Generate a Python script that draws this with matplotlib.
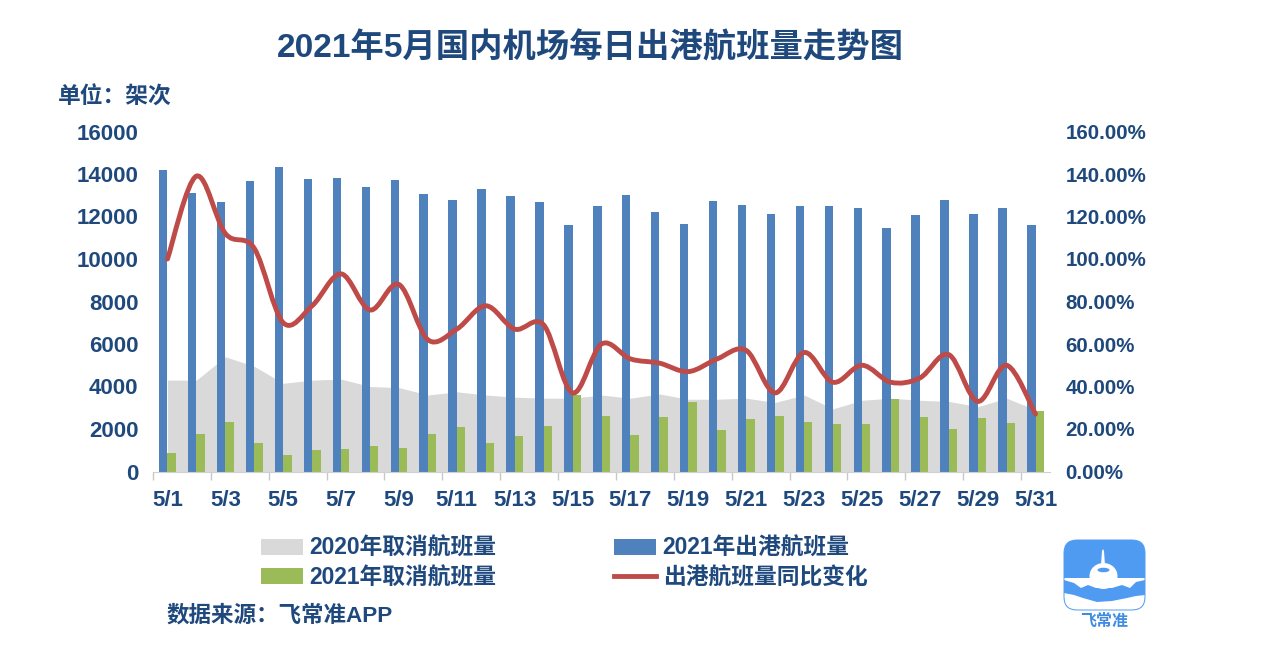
import numpy as np
from matplotlib import pyplot as plt
from matplotlib.patches import FancyBboxPatch, Ellipse, Polygon, PathPatch
from matplotlib.path import Path
from matplotlib.lines import Line2D

plt.rcParams['font.family'] = ['Liberation Sans', 'Noto Sans CJK SC', 'DejaVu Sans']

days = ['5/%d' % d for d in range(1, 32)]
out_2021 = [14200, 13100, 12700, 13650, 14350, 13750, 13800, 13400, 13700, 13050, 12800,
            13300, 12950, 12700, 11600, 12500, 13000, 12200, 11650, 12750, 12550,
            12100, 12500, 12500, 12400, 11450, 12050, 12800, 12100, 12400, 11600]
cancel_2021 = [850, 1750, 2350, 1350, 800, 1000, 1050, 1200, 1100, 1750, 2100,
               1350, 1650, 2150, 3600, 2600, 1700, 2550, 3250, 1950, 2450,
               2600, 2350, 2250, 2250, 3400, 2550, 2000, 2500, 2300, 2850]
cancel_2020 = [4300, 4300, 5400, 4950, 4150, 4300, 4350, 4000, 3950, 3600, 3750,
               3600, 3500, 3450, 3450, 3600, 3450, 3650, 3400, 3400, 3450,
               3250, 3600, 2950, 3350, 3450, 3350, 3300, 3050, 3450, 2900]
yoy_pct = [100, 139, 112, 105, 70, 78, 93, 76, 88, 62, 67,
           78, 67, 69, 37, 60, 53, 51, 47, 53, 57,
           37, 56, 42, 50, 42, 44, 55, 33, 50, 27]

TEXT = '#1F497D'
BLUE = '#4F81BD'
GREEN = '#9BBB59'
GRAY = '#D9D9D9'
RED = '#BE4B48'
W, H = 1265, 655


def smooth_path(xs, ys):
    # same kind of curve the office charts use, through every point
    xs = np.asarray(xs, float)
    ys = np.asarray(ys, float)
    verts = [(xs[0], ys[0])]
    codes = [Path.MOVETO]
    n = len(xs)
    for i in range(n - 1):
        a = max(i - 1, 0)
        b = min(i + 2, n - 1)
        verts.append((xs[i] + (xs[i + 1] - xs[a]) / 6, ys[i] + (ys[i + 1] - ys[a]) / 6))
        verts.append((xs[i + 1] - (xs[b] - xs[i]) / 6, ys[i + 1] - (ys[b] - ys[i]) / 6))
        verts.append((xs[i + 1], ys[i + 1]))
        codes += [Path.CURVE4] * 3
    return Path(verts, codes)


fig = plt.figure(figsize=(W / 100, H / 100), dpi=100)
ax = fig.add_axes([153 / W, 1 - 471.5 / H, 897 / W, 340 / H])
x = np.arange(len(days))
area = ax.fill_between(x, cancel_2020, color=GRAY, lw=0, label='2020年取消航班量')
bar_w = 0.29
b1 = ax.bar(x - bar_w / 2, out_2021, bar_w, color=BLUE, label='2021年出港航班量')
b2 = ax.bar(x + bar_w / 2, cancel_2021, bar_w, color=GREEN, label='2021年取消航班量')
ax.set_xlim(-0.5, 30.5)
ax.set_ylim(0, 16000)
ax.set_yticks(range(0, 16001, 2000))
ax.set_xticks(x[::2])
ax.set_xticklabels(days[::2])
ax.set_xticks(np.arange(-0.5, 30.5, 2), minor=True)
ax.tick_params(axis='x', which='major', length=0, pad=13, labelsize=16, labelcolor=TEXT)
ax.tick_params(axis='x', which='minor', length=6, color='#C8C8C8', width=1)
ax.tick_params(axis='y', length=0, pad=10.5, labelsize=16, labelcolor=TEXT)
for s in ['top', 'left', 'right']:
    ax.spines[s].set_visible(False)
ax.spines['bottom'].set_color('#D0D0D0')

ax2 = ax.twinx()
ax2.set_ylim(0, 160)
ax2.set_yticks(range(0, 161, 20))
ax2.set_yticklabels(['%.2f%%' % v for v in range(0, 161, 20)])
ax2.tick_params(axis='y', length=0, pad=11, labelsize=14.8, labelcolor=TEXT)
for s in ['top', 'left', 'right', 'bottom']:
    ax2.spines[s].set_visible(False)
ax2.add_patch(PathPatch(smooth_path(x, yoy_pct), fill=False, ec=RED, lw=3.5, capstyle='round'))
line = Line2D([], [], color=RED, lw=3.5, label='出港航班量同比变化')

for t in ax.get_xticklabels() + ax.get_yticklabels() + ax2.get_yticklabels():
    t.set_fontweight('bold')

fig.text(590.5 / W, 1 - 48.5 / H, '2021年5月国内机场每日出港航班量走势图', color=TEXT, fontsize=24,
         fontweight='bold', ha='center', va='center')
fig.text(58 / W, 1 - 97 / H, '单位：架次', color=TEXT, fontsize=16.4, fontweight='bold', va='center')
fig.text(167 / W, 1 - 616 / H, '数据来源：飞常准APP', color=TEXT, fontsize=16.2, fontweight='bold', va='center')

leg = fig.legend(handles=[area, b2, b1, line], ncol=2, frameon=False,
                 loc='center', bbox_to_anchor=(564 / W, 1 - 563 / H),
                 prop={'size': 16.4, 'weight': 'bold'}, labelcolor=TEXT,
                 handlelength=1.85, handletextpad=0.27, columnspacing=5.2, labelspacing=0.3)

# logo, drawn in pixel coordinates
lg = fig.add_axes([0, 0, 1, 1])
lg.set_xlim(0, W)
lg.set_ylim(H, 0)
lg.axis('off')
LOGO = '#4F9BF2'
box = FancyBboxPatch((1064, 540), 81, 70, boxstyle='round,pad=0,rounding_size=13', fc=LOGO, ec='none')
lg.add_patch(box)
cloud1 = Polygon([(1064, 578), (1145, 578), (1145, 580), (1136, 582), (1130, 588), (1122, 585), (1112, 588),
                  (1096, 588), (1088, 585), (1081, 588), (1074, 583), (1064, 580)], fc='white', ec='none')
cloud2 = Polygon([(1064, 593), (1074, 595), (1083, 598), (1097, 602), (1112, 601), (1127, 598),
                  (1136, 596), (1145, 595), (1145, 611), (1064, 611)], fc='white', ec='none')
for c in [cloud1, cloud2]:
    lg.add_patch(c)
    c.set_clip_path(box)
lg.add_patch(FancyBboxPatch((1064, 540), 81, 70, boxstyle='round,pad=0,rounding_size=13', fc='none', ec=LOGO, lw=0.7))
lg.add_patch(Polygon([(1101, 565), (1102, 551), (1103, 549), (1104, 551), (1105, 565)], fc='white', ec='none'))
lg.add_patch(Ellipse((1103.5, 576), 28, 26, fc='white', ec='none'))
lg.add_patch(Ellipse((1103.5, 570), 12, 4.5, fc=LOGO, ec='none'))
lg.text(1104.5, 621.5, '飞常准', color='#3F8CE0', fontsize=11.5, fontweight='bold', ha='center', va='center')

plt.savefig('out.png', dpi=100)
